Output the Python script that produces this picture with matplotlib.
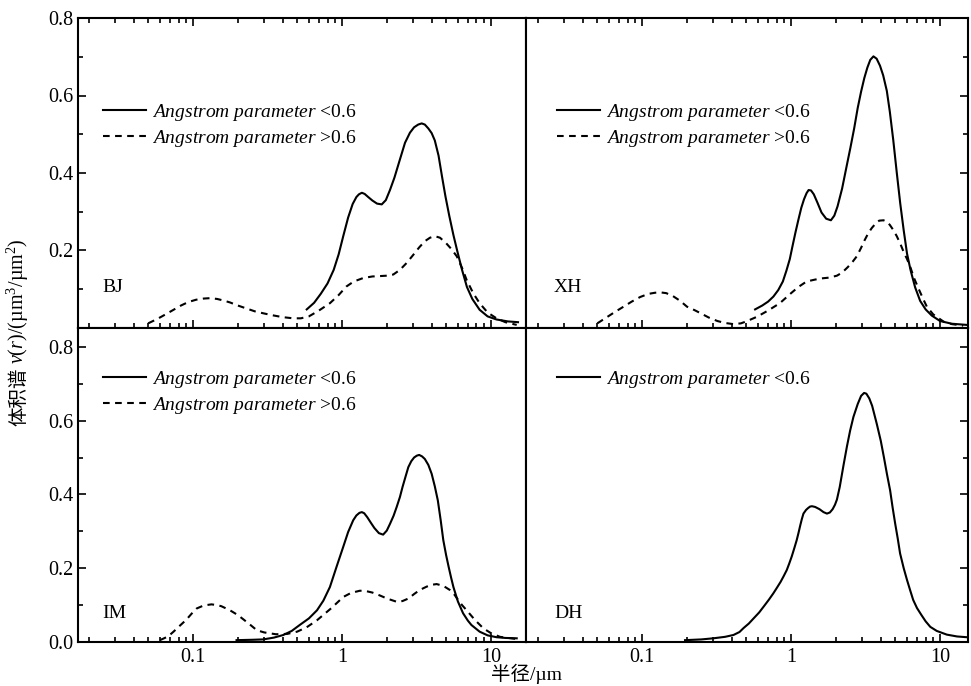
import matplotlib
matplotlib.use("Agg")
import matplotlib.pyplot as plt
from matplotlib.ticker import LogLocator, MultipleLocator, NullFormatter, FixedLocator

plt.rcParams['font.family'] = ['Liberation Serif', 'Noto Sans CJK SC']
plt.rcParams['mathtext.fontset'] = 'custom'
plt.rcParams['mathtext.rm'] = 'Liberation Serif'
plt.rcParams['mathtext.it'] = 'Liberation Serif:italic'

# BJ
bj_lo_x = [0.58, 0.65, 0.72, 0.8, 0.88, 0.95, 1.02, 1.1, 1.18, 1.25, 1.3, 1.36, 1.42, 1.5, 1.6,
           1.72, 1.85, 1.97, 2.1, 2.25, 2.45, 2.65, 2.86, 3.05, 3.25, 3.43, 3.6, 3.8, 4.0, 4.2,
           4.45, 4.7, 4.95, 5.25, 5.6, 5.95, 6.4, 6.9, 7.5, 8.4, 9.5, 10.9, 13, 15.2]
bj_lo_y = [0.048, 0.065, 0.088, 0.115, 0.15, 0.19, 0.237, 0.285, 0.32, 0.338, 0.345, 0.349, 0.346,
           0.338, 0.329, 0.321, 0.319, 0.33, 0.356, 0.388, 0.435, 0.478, 0.504, 0.518, 0.525,
           0.528, 0.525, 0.515, 0.503, 0.484, 0.445, 0.39, 0.34, 0.29, 0.24, 0.198, 0.15, 0.106,
           0.075, 0.047, 0.03, 0.022, 0.017, 0.015]
bj_hi_x = [0.05, 0.058, 0.066, 0.074, 0.083, 0.093, 0.105, 0.118, 0.13, 0.145, 0.16, 0.177, 0.2,
           0.23, 0.26, 0.296, 0.34, 0.4, 0.47, 0.53, 0.6, 0.7, 0.83, 0.95, 1.07, 1.2, 1.39, 1.6,
           1.8, 2.0, 2.21, 2.45, 2.72, 3.0, 3.3, 3.6, 3.9, 4.2, 4.55, 5.0, 5.45, 5.9, 6.4, 6.87,
           7.6, 8.4, 9.5, 10.9, 12.5, 14.9]
bj_hi_y = [0.012, 0.024, 0.036, 0.047, 0.058, 0.067, 0.073, 0.076, 0.077, 0.075, 0.071, 0.066,
           0.058, 0.05, 0.043, 0.038, 0.033, 0.028, 0.025, 0.025, 0.03, 0.045, 0.064, 0.085,
           0.107, 0.12, 0.129, 0.133, 0.134, 0.135, 0.138, 0.15, 0.168, 0.188, 0.208, 0.224,
           0.233, 0.237, 0.233, 0.219, 0.203, 0.185, 0.155, 0.124, 0.09, 0.064, 0.04, 0.025,
           0.015, 0.008]

# XH
xh_lo_x = [0.573, 0.64, 0.7, 0.76, 0.82, 0.88, 0.93, 0.98, 1.02, 1.07, 1.12, 1.17, 1.22, 1.27,
           1.31, 1.36, 1.42, 1.5, 1.6, 1.72, 1.85, 1.95, 2.05, 2.2, 2.36, 2.5, 2.65, 2.8, 2.95,
           3.1, 3.25, 3.4, 3.57, 3.75, 3.95, 4.15, 4.39, 4.6, 4.85, 5.12, 5.4, 5.7, 6.0, 6.35,
           6.8, 7.35, 8.0, 8.8, 10.0, 12, 15.1]
xh_lo_y = [0.048, 0.058, 0.068, 0.081, 0.098, 0.12, 0.148, 0.178, 0.21, 0.247, 0.28, 0.31, 0.332,
           0.348, 0.356, 0.355, 0.345, 0.324, 0.298, 0.282, 0.278, 0.29, 0.314, 0.36, 0.418,
           0.465, 0.515, 0.568, 0.61, 0.645, 0.672, 0.692, 0.701, 0.695, 0.677, 0.652, 0.612,
           0.558, 0.485, 0.401, 0.322, 0.252, 0.192, 0.148, 0.105, 0.07, 0.048, 0.032, 0.018,
           0.011, 0.008]
xh_hi_x = [0.05, 0.058, 0.066, 0.075, 0.085, 0.097, 0.11, 0.122, 0.132, 0.145, 0.16, 0.18, 0.2,
           0.225, 0.25, 0.28, 0.32, 0.36, 0.41, 0.46, 0.5, 0.59, 0.7, 0.84, 1.0, 1.12, 1.27, 1.45,
           1.6, 1.8, 2.03, 2.2, 2.4, 2.6, 2.76, 2.95, 3.1, 3.3, 3.48, 3.7, 3.9, 4.17, 4.4, 4.6,
           4.85, 5.12, 5.4, 5.7, 6.0, 6.29, 6.7, 7.2, 7.7, 8.15, 9.0, 10.6, 12, 14.3]
xh_hi_y = [0.012, 0.028, 0.042, 0.055, 0.068, 0.08, 0.088, 0.091, 0.092, 0.09, 0.083, 0.07, 0.055,
           0.046, 0.037, 0.027, 0.018, 0.013, 0.01, 0.012, 0.017, 0.029, 0.045, 0.064, 0.09,
           0.106, 0.12, 0.125, 0.128, 0.13, 0.135, 0.143, 0.157, 0.172, 0.185, 0.207, 0.225,
           0.245, 0.258, 0.27, 0.277, 0.278, 0.274, 0.266, 0.253, 0.237, 0.218, 0.196, 0.178,
           0.159, 0.128, 0.1, 0.075, 0.055, 0.035, 0.016, 0.01, 0.006]

# IM
im_lo_x = [0.196, 0.25, 0.296, 0.35, 0.404, 0.46, 0.52, 0.6, 0.68, 0.75, 0.83, 0.92, 1.02, 1.1,
           1.19, 1.25, 1.31, 1.36, 1.41, 1.48, 1.57, 1.65, 1.77, 1.89, 2.0, 2.1, 2.22, 2.33, 2.45,
           2.55, 2.68, 2.79, 2.92, 3.05, 3.18, 3.3, 3.45, 3.6, 3.8, 4.0, 4.2, 4.4, 4.6, 4.79, 5.0,
           5.2, 5.4, 5.6, 6.0, 6.5, 7.0, 7.4, 8.4, 9.5, 10.9, 12.5, 14.9]
im_lo_y = [0.005, 0.006, 0.007, 0.012, 0.019, 0.03, 0.046, 0.064, 0.086, 0.112, 0.149, 0.204,
           0.258, 0.298, 0.33, 0.343, 0.35, 0.352, 0.349, 0.338, 0.322, 0.309, 0.295, 0.291,
           0.302, 0.32, 0.342, 0.366, 0.393, 0.42, 0.45, 0.474, 0.49, 0.5, 0.505, 0.507, 0.503,
           0.496, 0.48, 0.456, 0.422, 0.384, 0.33, 0.276, 0.236, 0.204, 0.175, 0.149, 0.11,
           0.078, 0.058, 0.046, 0.028, 0.018, 0.013, 0.011, 0.010]
im_hi_x = [0.06, 0.068, 0.074, 0.082, 0.09, 0.098, 0.106, 0.118, 0.133, 0.145, 0.155, 0.177, 0.2,
           0.22, 0.245, 0.268, 0.3, 0.36, 0.43, 0.5, 0.58, 0.68, 0.85, 1.02, 1.15, 1.32, 1.45,
           1.6, 1.8, 2.0, 2.33, 2.55, 2.8, 3.05, 3.33, 3.7, 4.0, 4.32, 4.8, 5.3, 5.65, 6.0, 6.4,
           6.87, 7.8, 8.9, 10.0, 11.5, 14.9]
im_hi_y = [0.005, 0.015, 0.028, 0.045, 0.06, 0.077, 0.091, 0.099, 0.102, 0.1, 0.097, 0.086, 0.073,
           0.06, 0.045, 0.032, 0.026, 0.021, 0.022, 0.028, 0.04, 0.059, 0.092, 0.122, 0.133,
           0.139, 0.138, 0.134, 0.126, 0.118, 0.109, 0.111, 0.118, 0.13, 0.141, 0.15, 0.155,
           0.157, 0.152, 0.141, 0.13, 0.115, 0.1, 0.086, 0.06, 0.037, 0.024, 0.014, 0.008]

# DH
dh_lo_x = [0.194, 0.25, 0.3, 0.36, 0.41, 0.45, 0.48, 0.52, 0.56, 0.61, 0.66, 0.71, 0.76, 0.8, 0.85,
           0.89, 0.935, 0.97, 1.01, 1.05, 1.09, 1.12, 1.15, 1.18, 1.21, 1.26, 1.3, 1.34, 1.38,
           1.45, 1.55, 1.65, 1.74, 1.82, 1.9, 1.97, 2.03, 2.12, 2.25, 2.37, 2.49, 2.62, 2.8,
           2.95, 3.09, 3.2, 3.35, 3.5, 3.76, 4.0, 4.2, 4.4, 4.62, 4.8, 5.0, 5.2, 5.39, 5.7, 6.0,
           6.3, 6.6, 7.0, 7.5, 8.0, 8.6, 9.5, 11.1, 13, 15.1]
dh_lo_y = [0.005, 0.007, 0.01, 0.014, 0.019, 0.027, 0.038, 0.05, 0.064, 0.08, 0.098, 0.115, 0.132,
           0.146, 0.163, 0.178, 0.195, 0.212, 0.232, 0.254, 0.276, 0.295, 0.315, 0.333, 0.348,
           0.358, 0.363, 0.367, 0.368, 0.366, 0.36, 0.352, 0.348, 0.351, 0.36, 0.372, 0.386,
           0.42, 0.48, 0.53, 0.573, 0.61, 0.645, 0.667, 0.675, 0.673, 0.66, 0.64, 0.591, 0.545,
           0.5, 0.455, 0.411, 0.365, 0.32, 0.28, 0.24, 0.2, 0.168, 0.14, 0.114, 0.092, 0.073,
           0.056, 0.041, 0.03, 0.02, 0.015, 0.013]

lab_lo = r"$Angstrom\ parameter$ <0.6"
lab_hi = r"$Angstrom\ parameter$ >0.6"

W, H = 971, 686
fig = plt.figure(figsize=(W / 100, H / 100), dpi=100)

xl, xm, xr = 78, 526, 968
yt, ym, yb = 18, 328, 642


def make_ax(x0, x1, y0, y1):
    return fig.add_axes([x0 / W, 1 - y1 / H, (x1 - x0) / W, (y1 - y0) / H])


ax_bj = make_ax(xl, xm, yt, ym)
ax_xh = make_ax(xm, xr, yt, ym)
ax_im = make_ax(xl, xm, ym, yb)
ax_dh = make_ax(xm, xr, ym, yb)

panels = [
    (ax_bj, "BJ", [(bj_lo_x, bj_lo_y, '-'), (bj_hi_x, bj_hi_y, '--')], (0.0169, 17.2), (0, 0.8)),
    (ax_xh, "XH", [(xh_lo_x, xh_lo_y, '-'), (xh_hi_x, xh_hi_y, '--')], (0.0166, 15.4), (0, 0.8)),
    (ax_im, "IM", [(im_lo_x, im_lo_y, '-'), (im_hi_x, im_hi_y, '--')], (0.0169, 17.2), (0, 0.851)),
    (ax_dh, "DH", [(dh_lo_x, dh_lo_y, '-')], (0.0166, 15.4), (0, 0.851)),
]

for i, (ax, name, series, xlim, ylim) in enumerate(panels):
    labels = [lab_lo, lab_hi]
    for j, (x, y, ls) in enumerate(series):
        if ls == '--':
            ax.plot(x, y, color='black', lw=1.5, dashes=(3.2, 2.6), label=labels[j])
        else:
            ax.plot(x, y, color='black', lw=1.5, label=labels[j])
    ax.set_xscale('log')
    ax.set_xlim(*xlim)
    ax.set_ylim(*ylim)
    for s in ax.spines.values():
        s.set_linewidth(1.5)
    top = i < 2
    left = i % 2 == 0
    ax.xaxis.set_major_locator(FixedLocator([0.1, 1, 10]))
    ax.xaxis.set_minor_locator(LogLocator(base=10, subs=range(2, 10)))
    ax.xaxis.set_minor_formatter(NullFormatter())
    ax.yaxis.set_major_locator(MultipleLocator(0.2))
    ax.yaxis.set_minor_locator(MultipleLocator(0.1))
    ax.tick_params(which='both', direction='in', top=top, bottom=True,
                   left=left, right=not left, labelsize=14.5, width=1.2)
    ax.tick_params(which='major', length=6)
    ax.tick_params(which='minor', length=3.5)
    if top:
        ax.set_xticklabels([])
        ax.set_yticks([0.2, 0.4, 0.6, 0.8])
        ax.set_yticklabels(["0.2", "0.4", "0.6", "0.8"])
    else:
        ax.set_xticklabels(["0.1", "1", "10"])
        ax.set_yticks([0.0, 0.2, 0.4, 0.6, 0.8])
        ax.set_yticklabels(["0.0", "0.2", "0.4", "0.6", "0.8"])
    if not left:
        ax.set_yticklabels([])
    ax.tick_params(axis='x', pad=4)

    # legend and panel name
    axw = (xm - xl) if left else (xr - xm)
    axh = (ym - yt) if top else (yb - ym)
    lx = ((103 - xl) if left else (557 - xm)) / axw
    ly = ((ym - 102) if top else (yb - 369)) / axh
    ax.legend(loc='upper left', bbox_to_anchor=(lx, ly), borderaxespad=0, borderpad=0,
              frameon=False, fontsize=14, handlelength=2.2, handletextpad=0.3,
              labelspacing=0.25)
    nx = ((102 - xl) if left else (554 - xm)) / axw
    ny = ((ym - 288) if top else (yb - 613)) / axh
    ax.text(nx, ny, name, transform=ax.transAxes, fontsize=14, va='center', ha='left')

fig.text(xm / W, 1 - 674 / H, "半径/µm", ha='center', va='center', fontsize=14)

# y label: Chinese part and math part stacked along the rotated baseline
base_x = 24 / W
y_cn = fig.text(base_x, 0.3, "体积谱", rotation=90, rotation_mode='anchor',
                ha='left', va='baseline', fontsize=14, family='Noto Sans CJK SC')
y_en = fig.text(base_x, 0.5, r"$v$($r$)/(µm$^3$/µm$^2$)", rotation=90, rotation_mode='anchor',
                ha='left', va='baseline', fontsize=14.5)
fig.canvas.draw()
rend = fig.canvas.get_renderer()
h1 = y_cn.get_window_extent(rend).height
h2 = y_en.get_window_extent(rend).height
y0 = (H - 332) - (h1 + h2 + 3) / 2
y_cn.set_position((base_x, y0 / H))
y_en.set_position((base_x, (y0 + h1 + 3) / H))

fig.savefig("out.png", dpi=100)
